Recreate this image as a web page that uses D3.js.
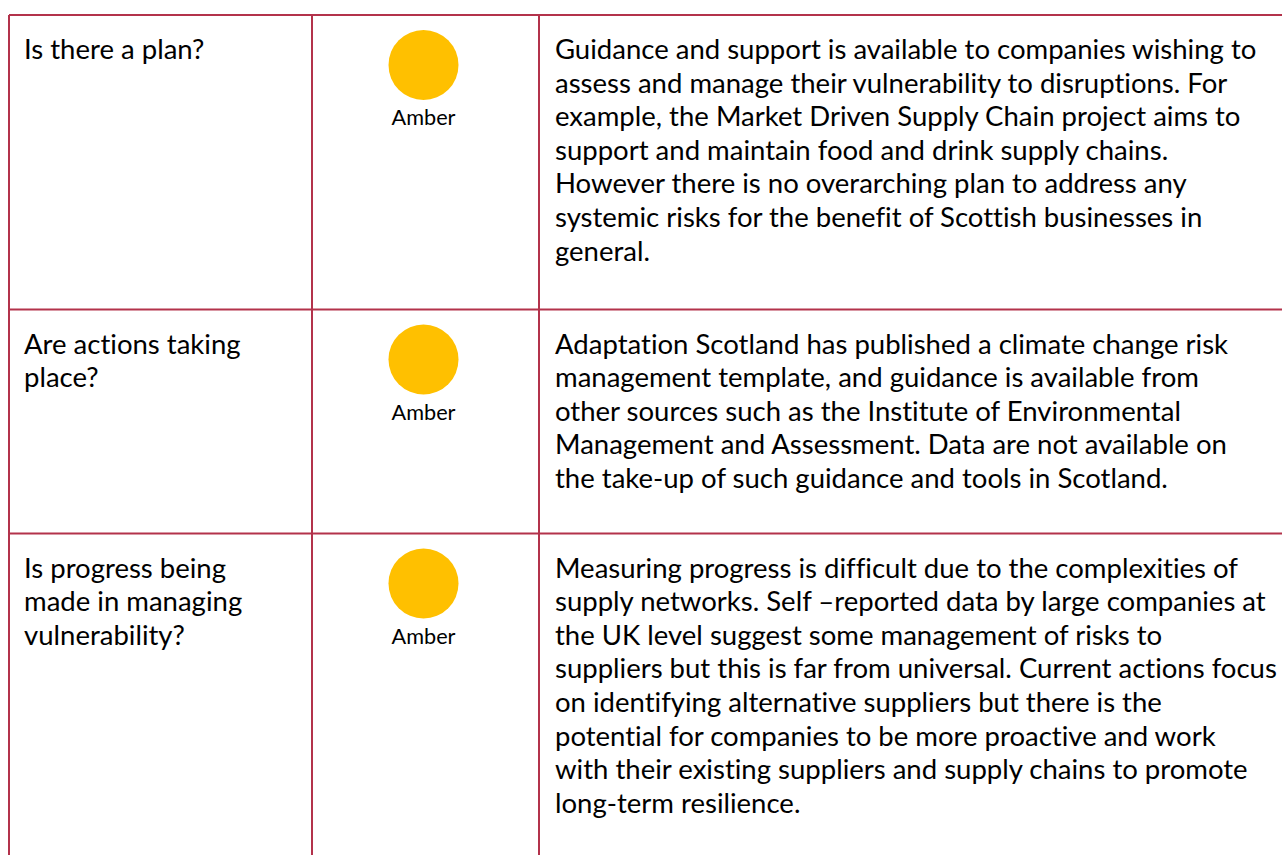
<!DOCTYPE html>
<html>
<head>
<meta charset="utf-8">
<script src="https://cdn.jsdelivr.net/npm/d3@7"></script>
<style>
  html, body { margin: 0; padding: 0; background: #ffffff; }
  svg { display: block; }
  text { font-variant-ligatures: none; font-feature-settings: "liga" 0, "clig" 0; }
</style>
</head>
<body>
<svg id="chart" width="1282" height="855"></svg>
<script>
// ---- data ----
const questions = [
  ["Is there a plan?"],
  ["Are actions taking", "place?"],
  ["Is progress being", "made in managing", "vulnerability?"]
];
const ratings = ["Amber", "Amber", "Amber"];
const ratingColors = { Green: "#00B050", Amber: "#FFC000", Red: "#C00000" };
const commentary = [
  [
    "Guidance and support is available to companies wishing to",
    "assess and manage their vulnerability to disruptions. For",
    "example, the Market Driven Supply Chain project aims to",
    "support and maintain food and drink supply chains.",
    "However there is no overarching plan to address any",
    "systemic risks for the benefit of Scottish businesses in",
    "general."
  ],
  [
    "Adaptation Scotland has published a climate change risk",
    "management template, and guidance is available from",
    "other sources such as the Institute of Environmental",
    "Management and Assessment. Data are not available on",
    "the take-up of such guidance and tools in Scotland."
  ],
  [
    "Measuring progress is difficult due to the complexities of",
    "supply networks. Self \u2013reported data by large companies at",
    "the UK level suggest some management of risks to",
    "suppliers but this is far from universal. Current actions focus",
    "on identifying alternative suppliers but there is the",
    "potential for companies to be more proactive and work",
    "with their existing suppliers and supply chains to promote",
    "long-term resilience."
  ]
];

// ---- layout ----
const W = 1282, H = 855;
const tableLeft = 9, tableTop = 15;
const colEdges = [9, 312, 539, 1284];
const rowHeights = [294.5, 224, 340];
const lineH = 33.6;
const borderColor = "#B3324B";
const fontFamily = "Lato, 'Open Sans', sans-serif";

const svg = d3.select("#chart");

const rowTops = rowHeights.reduce((acc, h, i) => { acc.push(i === 0 ? tableTop : acc[i-1] + rowHeights[i-1]); return acc; }, []);
const rowIdx = d3.range(questions.length);
const y = d3.scaleOrdinal().domain(rowIdx).range(rowTops);
const x = d3.scaleOrdinal().domain(["q", "r", "c", "end"]).range(colEdges);

function measure(txt, size) {
  const t = svg.append("text").attr("font-family", fontFamily).attr("font-size", size).text(txt);
  const w = t.node().getComputedTextLength();
  t.remove();
  return w;
}
// fit so the widest commentary line fills the column as in the original
const widest = d3.max(commentary.flat(), s => measure(s, 100));
const mainSize = 100 * 722 / widest;
const amberSize = 100 * 64 / measure("Amber", 100);

const rows = svg.selectAll("g.row").data(rowIdx).join("g")
  .attr("class", "row")
  .attr("transform", d => `translate(0,${y(d)})`);

rows.append("text")
  .attr("font-family", fontFamily)
  .attr("font-size", mainSize)
  .attr("fill", "#000")
  .selectAll("tspan").data(d => questions[d]).join("tspan")
  .attr("x", x("q") + 15)
  .attr("y", (d, i) => 44 + i * lineH)
  .text(d => d);

const midR = (x("r") + x("c")) / 2 - 2;
rows.append("circle")
  .attr("cx", midR)
  .attr("cy", 50)
  .attr("r", 35)
  .attr("fill", d => ratingColors[ratings[d]]);

rows.append("text")
  .attr("x", midR)
  .attr("y", 110)
  .attr("text-anchor", "middle")
  .attr("font-family", fontFamily)
  .attr("font-size", amberSize)
  .attr("fill", "#000")
  .text(d => ratings[d]);

rows.append("text")
  .attr("font-family", fontFamily)
  .attr("font-size", mainSize)
  .attr("fill", "#000")
  .selectAll("tspan").data(d => commentary[d]).join("tspan")
  .attr("x", x("c") + 16)
  .attr("y", (d, i) => 44 + i * lineH)
  .text(d => d);

const g = svg.append("g").attr("stroke", borderColor).attr("stroke-width", 2).attr("fill", "none");
rowTops.forEach(t => {
  g.append("line").attr("x1", tableLeft).attr("x2", W + 5).attr("y1", t).attr("y2", t);
});
colEdges.forEach(c => {
  g.append("line").attr("x1", c).attr("x2", c).attr("y1", tableTop).attr("y2", H + 5);
});
</script>
</body>
</html>
